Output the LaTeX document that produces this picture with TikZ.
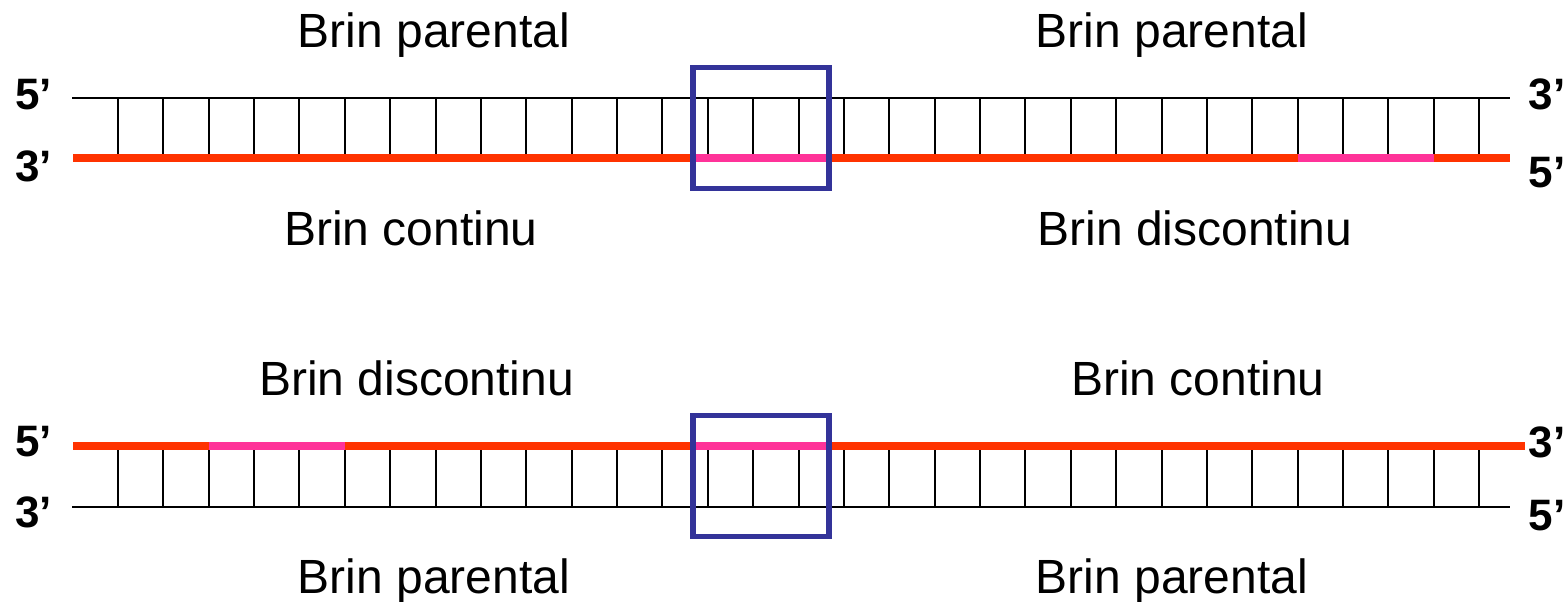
\documentclass[tikz,border=0pt]{standalone}
\usepackage{fontspec}
\setmainfont{Liberation Sans}
\definecolor{strandred}{HTML}{FF3300}
\definecolor{strandpink}{HTML}{FF3399}
\definecolor{boxblue}{HTML}{333399}
\begin{document}
\begin{tikzpicture}[x=1pt,y=-1pt,
  lbl/.style={inner sep=0pt,anchor=base,font=\fontsize{48}{52}\selectfont},
  endlbl/.style={inner sep=0pt,anchor=base,font=\fontsize{44}{48}\selectfont\bfseries},
  parent/.style={line width=2pt,black},
  rung/.style={line width=2pt,black},
  newred/.style={line width=8pt,strandred},
  newpink/.style={line width=8pt,strandpink},
  zoombox/.style={line width=5.5pt,boxblue}]
\useasboundingbox (0,0) rectangle (1568,602);
% ---------- top ladder ----------
\foreach \i in {0,...,30}{
  \draw[rung] (118+45.37*\i,97.5) -- (118+45.37*\i,158);
}
\coordinate (t1) at (72,97.5);
\coordinate (t2) at (1510,97.5);
\draw[parent] (t1) -- (t2);
\coordinate (r1) at (73,158);
\coordinate (r2) at (693,158);
\coordinate (r3) at (829,158);
\coordinate (r4) at (1297.6,158);
\coordinate (r5) at (1433.7,158);
\coordinate (r6) at (1510,158);
\draw[newred] (r1) -- (r2);
\draw[newpink] (r2) -- (r3);
\draw[newred] (r3) -- (r4);
\draw[newpink] (r4) -- (r5);
\draw[newred] (r5) -- (r6);
\coordinate (b1a) at (693,67.5);
\coordinate (b1b) at (829,188.5);
\draw[zoombox] (b1a) rectangle (b1b);
% ---------- bottom ladder ----------
\foreach \i in {0,...,30}{
  \draw[rung] (118+45.37*\i,446) -- (118+45.37*\i,506.7);
}
\coordinate (u1) at (72,506.7);
\coordinate (u2) at (1510,506.7);
\draw[parent] (u1) -- (u2);
\coordinate (s1) at (73,446);
\coordinate (s2) at (208.7,446);
\coordinate (s3) at (344.9,446);
\coordinate (s4) at (693,446);
\coordinate (s5) at (829,446);
\coordinate (s6) at (1525,446);
\draw[newred] (s1) -- (s2);
\draw[newpink] (s2) -- (s3);
\draw[newred] (s3) -- (s4);
\draw[newpink] (s4) -- (s5);
\draw[newred] (s5) -- (s6);
\coordinate (b2a) at (693,415.5);
\coordinate (b2b) at (829,536.5);
\draw[zoombox] (b2a) rectangle (b2b);
% ---------- texts ----------
\node[lbl] (tpl) at (434,47.5) {Brin parental};
\node[lbl] (tpr) at (1172,47.5) {Brin parental};
\node[lbl] (tcl) at (411,245) {Brin continu};
\node[lbl] (tdr) at (1195,245) {Brin discontinu};
\node[lbl] (bdl) at (416.5,395) {Brin discontinu};
\node[lbl] (bcr) at (1198,395) {Brin continu};
\node[lbl] (bpl) at (434,593) {Brin parental};
\node[lbl] (bpr) at (1172,593) {Brin parental};
% ---------- end labels ----------
\node[endlbl] (l1) at (33.5,109) {5’};
\node[endlbl] (l2) at (33.5,181) {3’};
\node[endlbl] (l3) at (1547,109) {3’};
\node[endlbl] (l4) at (1547,187) {5’};
\node[endlbl] (l5) at (33.5,456) {5’};
\node[endlbl] (l6) at (33.5,527) {3’};
\node[endlbl] (l7) at (1547,457) {3’};
\node[endlbl] (l8) at (1547,530) {5’};
\end{tikzpicture}
\end{document}
